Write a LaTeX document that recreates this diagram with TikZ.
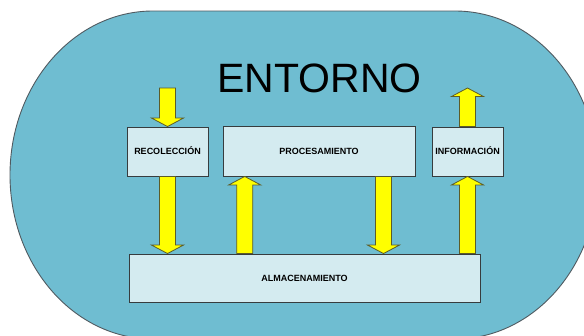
\documentclass[tikz,border=0pt]{standalone}
\usepackage{fontspec}
\setmainfont{Liberation Sans}
\usetikzlibrary{calc}

\definecolor{envfill}{RGB}{111,189,209}
\definecolor{envline}{RGB}{80,90,96}
\definecolor{boxfill}{RGB}{212,235,240}
\definecolor{boxline}{RGB}{55,60,62}
\definecolor{arrowfill}{RGB}{255,255,0}
\definecolor{arrowline}{RGB}{92,92,40}

% vertical block arrow from #1 to #2 (tip at #2)
\newcommand\blockarrow[2]{%
  \draw[blockarr]
    let \p1 = (#1), \p2 = (#2),
        \n1 = {ifthenelse(\y2>\y1,1,-1)} in
    (\x1-8pt,\y1) -- (\x1-8pt,\y2-\n1*8.5pt) -- (\x1-16pt,\y2-\n1*8.5pt)
    -- (\x1,\y2) -- (\x1+16pt,\y2-\n1*8.5pt) -- (\x1+8pt,\y2-\n1*8.5pt)
    -- (\x1+8pt,\y1) -- cycle;}

\begin{document}
\begin{tikzpicture}[x=1pt,y=-1pt,
  stagebox/.style={draw=boxline,fill=boxfill,line width=0.9pt,inner sep=0pt,
    font=\fontsize{9}{10}\selectfont\bfseries,text height=6.5pt,text depth=0pt},
  blockarr/.style={draw=arrowline,fill=arrowfill,line width=0.8pt,line join=miter},
  title/.style={font=\fontsize{41}{45}\selectfont,inner sep=0pt,anchor=base}]
\useasboundingbox (0,0) rectangle (584,335);
\clip (0,0) rectangle (584,335);

% surrounding environment
\draw[fill=envfill,draw=envline,line width=0.9pt]
  (153,11) -- (455,11)
  arc[start angle=-90,end angle=90,x radius=143,y radius=164]
  -- (153,339)
  arc[start angle=90,end angle=270,x radius=143,y radius=164]
  -- cycle;

\node[title] (entorno) at (319.5,92.5) {ENTORNO};

% stages
\node[stagebox,minimum width=81pt,minimum height=49pt] (rec) at (167.5,151.5) {RECOLECCIÓN};
\node[stagebox,minimum width=192pt,minimum height=50pt] (proc) at (319,151) {PROCESAMIENTO};
\node[stagebox,minimum width=71pt,minimum height=49pt] (info) at (467.5,151.5) {INFORMACIÓN};
\node[stagebox,minimum width=351pt,minimum height=48pt] (alm) at (304.5,278) {ALMACENAMIENTO};

% free ends and arrow columns
\coordinate (in) at (167.5,88);
\coordinate (out) at (467.5,88);
\coordinate (colA) at (244.7,0);
\coordinate (colB) at (383.5,0);

% flows
\blockarrow{in}{rec.north}
\blockarrow{rec.south}{rec.south |- alm.north}
\blockarrow{colA |- alm.north}{colA |- proc.south}
\blockarrow{colB |- proc.south}{colB |- alm.north}
\blockarrow{info.south |- alm.north}{info.south}
\blockarrow{info.north}{out}
\end{tikzpicture}
\end{document}
